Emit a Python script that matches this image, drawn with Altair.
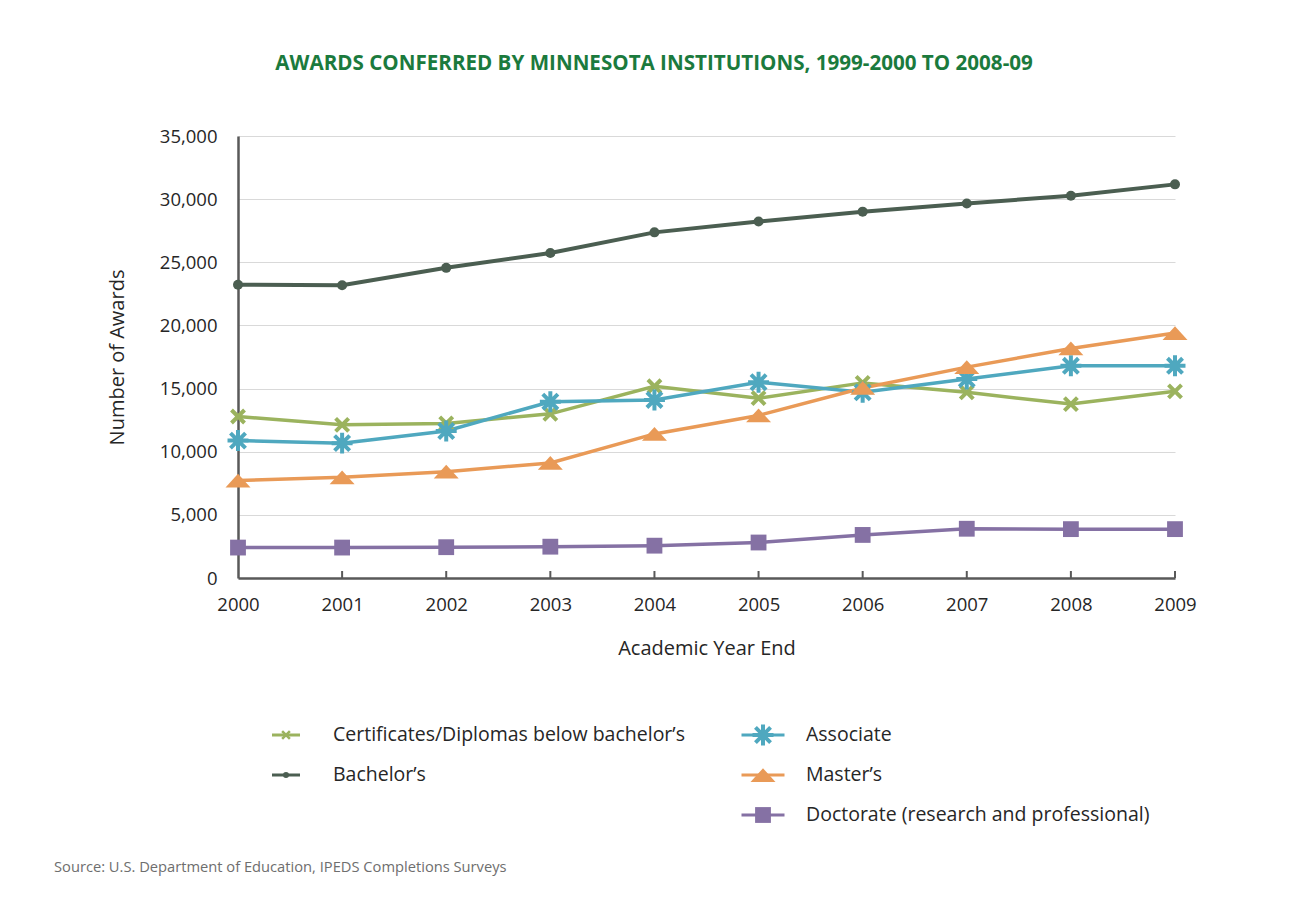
import altair as alt
import pandas as pd

# ---------------- data ----------------
years = [2000, 2001, 2002, 2003, 2004, 2005, 2006, 2007, 2008, 2009]
series_names = [
    "Certificates/Diplomas below bachelor’s",
    "Bachelor’s",
    "Associate",
    "Master’s",
    "Doctorate (research and professional)",
]
certificates = [12790, 12130, 12240, 13000, 15180, 14240, 15450, 14700, 13770, 14780]
bachelors = [23220, 23180, 24560, 25730, 27370, 28230, 29010, 29660, 30270, 31170]
associate = [10880, 10680, 11640, 13960, 14100, 15500, 14700, 15750, 16800, 16800]
masters = [7720, 7970, 8420, 9110, 11410, 12870, 15050, 16700, 18180, 19400]
doctorate = [2410, 2410, 2440, 2480, 2560, 2810, 3410, 3900, 3870, 3870]
y_ticks = [0, 5000, 10000, 15000, 20000, 25000, 30000, 35000]

title_text = "AWARDS CONFERRED BY MINNESOTA INSTITUTIONS, 1999-2000 TO 2008-09"
x_title = "Academic Year End"
y_title = "Number of Awards"
source_text = "Source: U.S. Department of Education, IPEDS Completions Surveys"

all_values = [certificates, bachelors, associate, masters, doctorate]

# ---------------- styles ----------------
colors = ["#9bb35e", "#4b5e51", "#4fa8bf", "#e99a57", "#8571a4"]
X_PATH = "M-1,-1L1,1M-1,1L1,-1"
STAR_PATH = "M0,-1L0,1M-1,0L1,0M-0.72,-0.72L0.72,0.72M-0.72,0.72L0.72,-0.72"
TRI_PATH = "M-1,0.55L0,-0.55L1,0.55Z"
LINE_PATH = "M-1,0L1,0"
markers = [
    dict(shape=X_PATH, filled=False, size=170, sw=4, lsize=100),
    dict(shape="circle", filled=True, size=100, sw=0, lsize=60),
    dict(shape=STAR_PATH, filled=False, size=440, sw=4, lsize=440),
    dict(shape=TRI_PATH, filled=True, size=625, sw=0, lsize=625),
    dict(shape="square", filled=True, size=250, sw=0, lsize=250),
]
FONT = "Open Sans"
AXIS_COLOR = "#595959"
TEXT_COLOR = "#262626"
W, H = 937, 442

rows = []
for name, vals in zip(series_names, all_values):
    for yr, v in zip(years, vals):
        rows.append({"series": name, "year": yr, "value": v})
df = pd.DataFrame(rows)

x_enc = alt.X(
    "year:Q",
    scale=alt.Scale(domain=[years[0], years[-1]], nice=False, zero=False),
    axis=alt.Axis(
        values=years, format="d", title=x_title, ticks=False, grid=False,
        domainColor=AXIS_COLOR, domainWidth=2.5, labelPadding=17, labelFlush=False,
        labelFontSize=18.5, labelColor=TEXT_COLOR, titleFontSize=20, titleColor=TEXT_COLOR,
        titleFontWeight="normal", titlePadding=25, labelFont=FONT, titleFont=FONT,
    ),
)
y_enc = alt.Y(
    "value:Q",
    scale=alt.Scale(domain=[y_ticks[0], y_ticks[-1]], nice=False),
    axis=alt.Axis(
        values=y_ticks, format=",d", title=y_title, ticks=False, grid=True,
        gridColor="#d9d9d9", gridWidth=1, domainColor=AXIS_COLOR, domainWidth=2.5,
        labelPadding=21, labelFontSize=18.5, labelColor=TEXT_COLOR, titleFontSize=20,
        titleColor=TEXT_COLOR, titleFontWeight="normal", titlePadding=32,
        labelFont=FONT, titleFont=FONT,
    ),
)

line_layers = []
point_layers = []
for i, name in enumerate(series_names):
    d = df[df["series"] == name]
    m = markers[i]
    line_layers.append(
        alt.Chart(d).mark_line(color=colors[i], strokeWidth=4 if i == 1 else 3.5)
        .encode(x=x_enc, y=y_enc)
    )
    pkw = dict(shape=m["shape"], filled=m["filled"], color=colors[i], size=m["size"], opacity=1)
    if not m["filled"]:
        pkw["strokeWidth"] = m["sw"]
    point_layers.append(alt.Chart(d).mark_point(**pkw).encode(x=x_enc, y=y_enc))

tick_df = pd.DataFrame({"year": years[1:]})
x_ticks = alt.Chart(tick_df).mark_rule(color=AXIS_COLOR, strokeWidth=2).encode(
    x=x_enc, y=alt.value(H - 7), y2=alt.value(H)
)

main = alt.layer(*line_layers, *point_layers, x_ticks).properties(width=W, height=H)

# ---------------- legend panel ----------------
leg_rows = []
for i, name in enumerate(series_names):
    col = 0 if i < 2 else 1
    row = i if i < 2 else i - 2
    leg_rows.append({"series": name, "col": col, "row": row})
leg_df = pd.DataFrame(leg_rows)

lx = alt.X("col:Q", scale=alt.Scale(domain=[-48 / 477, 889 / 477], nice=False, zero=False), axis=None)
ly = alt.Y("row:Q", scale=alt.Scale(domain=[-0.5, 2.5], reverse=True, nice=False, zero=False), axis=None)

leg_layers = []
for i, name in enumerate(series_names):
    d = leg_df[leg_df["series"] == name]
    col = int(d["col"].iloc[0])
    m = markers[i]
    seg = 28 if col == 0 else 43
    leg_layers.append(
        alt.Chart(d).mark_point(shape=LINE_PATH, filled=False, color=colors[i],
                                strokeWidth=3, size=seg * seg, opacity=1)
        .encode(x=lx, y=ly)
    )
    pkw = dict(shape=m["shape"], filled=m["filled"], color=colors[i],
               size=m["lsize"] if col == 1 else m["lsize"] * 0.6, opacity=1)
    if not m["filled"]:
        pkw["strokeWidth"] = m["sw"] if col == 1 else 2.5
    leg_layers.append(alt.Chart(d).mark_point(**pkw).encode(x=lx, y=ly))
    leg_layers.append(
        alt.Chart(d).mark_text(align="left", baseline="middle", dx=47 if col == 0 else 43,
                               fontSize=19.5, font=FONT, color=TEXT_COLOR)
        .encode(x=lx, y=ly, text="series:N")
    )

src_df = pd.DataFrame({"text": [source_text]})
source = alt.Chart(src_df).mark_text(
    align="left", baseline="middle", fontSize=14.7, font=FONT, color="#6e6e6e"
).encode(x=alt.value(54 - 238), y=alt.value(867 - 714), text="text:N")

legend = alt.layer(*leg_layers, source).properties(width=W, height=120)

chart = (
    alt.vconcat(main, legend, spacing=56)
    .properties(
        title=alt.TitleParams(
            text=title_text, fontSize=20.6, font=FONT, fontWeight="bold",
            color="#1b7a3d", anchor="middle", offset=52, dx=29,
        ),
        padding={"left": 46, "top": 46, "right": 10, "bottom": 10},
        background="white",
    )
    .configure_view(stroke=None)
)

chart.save("out.html", embed_options={"renderer": "svg", "actions": False})
